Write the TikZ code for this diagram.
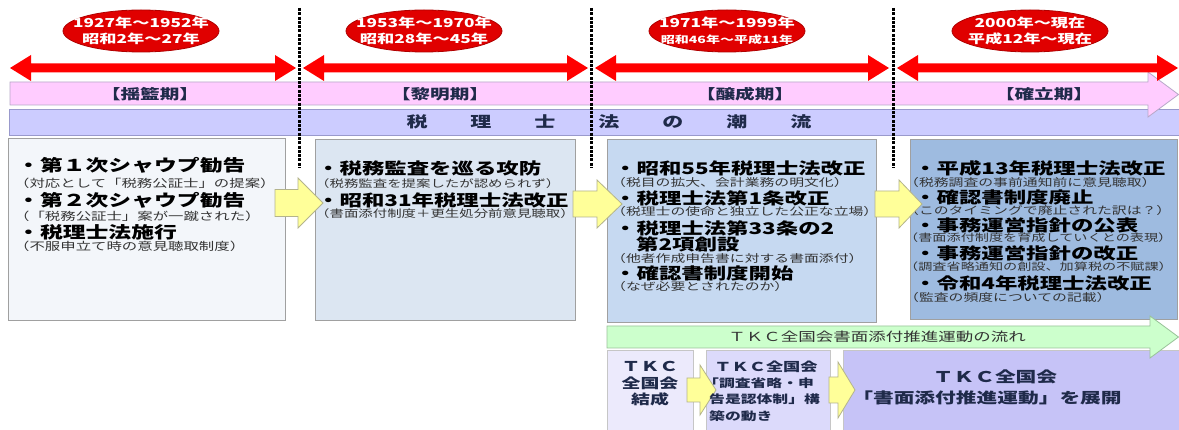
\documentclass[tikz,border=0pt]{standalone}
\usepackage{fontspec}
\setmainfont{Noto Sans CJK JP}[FakeStretch=1.4]
\usetikzlibrary{shapes.geometric}
\definecolor{ellred}{HTML}{E00000}
\definecolor{ellline}{HTML}{B00000}
\definecolor{arrred}{HTML}{FF0000}
\definecolor{pinkfill}{HTML}{FFCCFF}
\definecolor{pinkline}{HTML}{B8A8C8}
\definecolor{lavfill}{HTML}{CCCCFF}
\definecolor{lavline}{HTML}{9999CC}
\definecolor{boxa}{HTML}{F3F6FA}
\definecolor{boxb}{HTML}{DCE6F2}
\definecolor{boxc}{HTML}{C6D9F1}
\definecolor{boxd}{HTML}{9EBBE0}
\definecolor{boxline}{HTML}{A0A0A0}
\definecolor{yfill}{HTML}{FFFF99}
\definecolor{yline}{HTML}{B4B48C}
\definecolor{gfill}{HTML}{CCFFCC}
\definecolor{gline}{HTML}{99C299}
\definecolor{pa}{HTML}{ECEAFC}
\definecolor{pb}{HTML}{DCDAFB}
\definecolor{pc}{HTML}{C6C3F7}
\definecolor{navy}{HTML}{1F2A4A}
\definecolor{smallgray}{HTML}{333333}

\newcommand\RArrow[2]{\fill[arrred] (#1,68) -- ({#1+21},55) -- ({#1+21},63.5) -- ({#2-21},63.5) -- ({#2-21},55) -- (#2,68) -- ({#2-21},81) -- ({#2-21},72.5) -- ({#1+21},72.5) -- ({#1+21},81) -- cycle;}
\newcommand\YArrow[6]{\draw[yarr] (#1,{#4-#6}) -- (#2,{#4-#6}) -- (#2,{#4-#5}) -- (#3,#4) -- (#2,{#4+#5}) -- (#2,{#4+#6}) -- (#1,{#4+#6}) -- cycle;}

\begin{document}
\begin{tikzpicture}[x=1pt,y=-1pt,
  box/.style={draw=boxline, line width=0.8pt, anchor=north west, inner sep=0},
  pbox/.style={draw=boxline!60, line width=0.6pt, anchor=north west, inner sep=0},
  big/.style={anchor=west, inner sep=0, font=\fontsize{16}{18}\selectfont\bfseries},
  sm/.style={anchor=west, inner sep=0, text=smallgray, font=\fontsize{11}{12}\selectfont},
  sm2/.style={sm, font=\fontsize{10.3}{12}\selectfont},
  sm3/.style={sm, font=\fontsize{10.6}{12}\selectfont},
  sm4/.style={sm, font=\fontsize{10.6}{12}\selectfont},
  sm5/.style={sm, font=\fontsize{10.1}{12}\selectfont},
  yarr/.style={fill=yfill, draw=yline, line width=0.8pt, line join=miter},
  redell/.style={ellipse, fill=ellred, draw=ellline, line width=0.8pt, minimum width=156pt, minimum height=42pt, inner sep=0},
  etxt/.style={align=center, text=white, inner sep=0, font=\fontsize{12.3}{15.5}\selectfont\bfseries},
  bandtxt/.style={inner sep=0, text=navy, font=\fontsize{14}{16}\selectfont\bfseries},
  bt/.style={inner sep=0, text=navy, font=\fontsize{11.3}{13}\selectfont\bfseries},
  dline/.style={line width=3pt, dash pattern=on 3pt off 1.3pt, black}
]
\useasboundingbox (0,0) rectangle (1179,430);
\fill[white] (0,0) rectangle (1179,430);

% lavender band
\node[draw=lavline, fill=lavfill, line width=0.8pt, anchor=north west, minimum width=1175pt, minimum height=26pt, inner sep=0] (lav) at (9,109) {};
% pink band arrow
\draw[fill=pinkfill, draw=pinkline, line width=0.8pt] (10,82) -- (1148,82) -- (1148,72) -- (1178.5,94.5) -- (1148,117) -- (1148,105) -- (10,105) -- cycle;

% red double arrows
\RArrow{10}{296}
\RArrow{303}{588}
\RArrow{595}{889}
\RArrow{897}{1178}

% red ellipses
\node[redell] (e1) at (141,31) {};
\node[redell] (e2) at (424,31) {};
\node[redell] (e3) at (727,31) {};
\node[redell] (e4) at (1030,31) {};
\node[etxt] (t1) at (e1) {1927年～1952年\\昭和2年～27年};
\node[etxt] (t2) at (e2) {1953年～1970年\\昭和28年～45年};
\node[etxt] (t3) at (e3) {1971年～1999年\\{\fontsize{10}{15.5}\selectfont 昭和46年～平成11年}};
\node[etxt] (t4) at (e4) {2000年～現在\\平成12年～現在};

% band texts
\node[bandtxt] (p1) at (150,94) {【揺籃期】};
\node[bandtxt] (p2) at (440,94) {【黎明期】};
\node[bandtxt] (p3) at (745,94) {【醸成期】};
\node[bandtxt] (p4) at (1044,94) {【確立期】};
\node[bandtxt, font=\fontsize{15}{17}\selectfont\bfseries] (flow) at (609,122)
  {税\hspace{43pt}理\hspace{43pt}士\hspace{43pt}法\hspace{43pt}の\hspace{43pt}潮\hspace{43pt}流};

% main boxes
\node[box, fill=boxa, minimum width=277pt, minimum height=182pt] (B1) at (8,138) {};
\node[box, fill=boxb, minimum width=260pt, minimum height=181pt] (B2) at (315,139) {};
\node[box, fill=boxc, minimum width=269pt, minimum height=183pt] (B3) at (607,139) {};
\node[box, fill=boxd, minimum width=267pt, minimum height=180pt] (B4) at (910,139) {};

% box 1 text
\node[big, font=\fontsize{16.3}{18}\selectfont\bfseries] (a1) at (17,165) {・第１次シャウプ勧告};
\node[sm]  (a2) at (14,183) {（対応として「税務公証士」の提案）};
\node[big, font=\fontsize{16.3}{18}\selectfont\bfseries] (a3) at (17,200) {・第２次シャウプ勧告};
\node[sm]  (a4) at (14,216) {（「税務公証士」案が一蹴された）};
\node[big, font=\fontsize{16.3}{18}\selectfont\bfseries] (a5) at (17,232) {・税理士法施行};
\node[sm]  (a6) at (14,246) {（不服申立て時の意見聴取制度）};

% box 2 text
\node[big] (b1) at (317,168) {・税務監査を巡る攻防};
\node[sm2] (b2) at (315,184) {（税務監査を提案したが認められず）};
\node[big] (b3) at (317,200) {・昭和31年税理士法改正};
\node[sm2] (b4) at (315,214) {（書面添付制度＋更生処分前意見聴取）};

% box 3 text
\node[big] (c1) at (614,168) {・昭和55年税理士法改正};
\node[sm3] (c2) at (611,182) {（税目の拡大、会計業務の明文化）};
\node[big] (c3) at (614,198) {・税理士法第1条改正};
\node[sm3] (c4) at (611,211) {（税理士の使命と独立した公正な立場）};
\node[big] (c5) at (614,228) {・税理士法第33条の2};
\node[big] (c6) at (636,244) {第2項創設};
\node[sm3] (c7) at (611,258) {（他者作成申告書に対する書面添付）};
\node[big] (c8) at (614,273) {・確認書制度開始};
\node[sm3] (c9) at (611,286) {（なぜ必要とされたのか）};

% box 4 text
\node[big] (d1) at (914,168) {・平成13年税理士法改正};
\node[sm4] (d2) at (904,182) {（税務調査の事前通知前に意見聴取）};
\node[big] (d3) at (914,197) {・確認書制度廃止};
\node[sm4] (d4) at (904,210) {（このタイミングで廃止された訳は？）};
\node[big] (d5) at (914,225) {・事務運営指針の公表};
\node[sm5] (d6) at (904,238) {（書面添付制度を育成していくとの表現）};
\node[big] (d7) at (914,253) {・事務運営指針の改正};
\node[sm5] (d8) at (904,267) {（調査省略通知の創設、加算税の不賦課）};
\node[big] (d9) at (914,283) {・令和4年税理士法改正};
\node[sm4] (d10) at (904,297) {（監査の頻度についての記載）};

% yellow arrows between main boxes
\YArrow{275}{298}{323}{203}{25}{13.5}
\YArrow{573}{597}{622}{204}{24}{13}
\YArrow{875}{899}{922}{204}{24}{13}

% bottom boxes
\node[pbox, fill=pa, minimum width=86pt, minimum height=82pt] (L1) at (607,350) {};
\node[pbox, fill=pb, minimum width=124pt, minimum height=82pt] (L2) at (706,350) {};
\node[pbox, fill=pc, minimum width=338pt, minimum height=82pt] (L3) at (843,350) {};

% green arrow
\draw[fill=gfill, draw=gline, line width=0.8pt] (607,326) -- (1150,326) -- (1150,316) -- (1178.5,337) -- (1150,358) -- (1150,348) -- (607,348) -- cycle;
\node[inner sep=0, text=smallgray, font=\fontsize{12.5}{14}\selectfont] (gtxt) at (877,337) {ＴＫＣ全国会書面添付推進運動の流れ};

% bottom yellow arrows
\YArrow{687}{700}{716}{390}{25}{12}
\YArrow{829}{838}{855}{390}{28}{13}

% bottom texts
\node[bt, align=center, font=\fontsize{13.5}{16.5}\selectfont\bfseries] (la) at (650,384) {ＴＫＣ\\全国会\\結成};
\node[bt, font=\fontsize{12.3}{13}\selectfont\bfseries] (lb1) at (766,367) {ＴＫＣ全国会};
\node[bt, anchor=west] (lb2) at (703,383) {「調査省略・申};
\node[bt, anchor=west] (lb3) at (709,399) {告是認体制」構};
\node[bt, anchor=west] (lb4) at (709,416) {築の動き};
\node[bt, font=\fontsize{14.8}{16}\selectfont\bfseries] (lc1) at (995,377) {ＴＫＣ全国会};
\node[bt, font=\fontsize{14.8}{16}\selectfont\bfseries] (lc2) at (987,398) {「書面添付推進運動」を展開};

% dashed separators
\coordinate (s1t) at (299,8); \coordinate (s1b) at (299,168);
\coordinate (s2t) at (591,8); \coordinate (s2b) at (591,168);
\coordinate (s3t) at (893,8); \coordinate (s3b) at (893,168);
\draw[dline] (s1t) -- (s1b);
\draw[dline] (s2t) -- (s2b);
\draw[dline] (s3t) -- (s3b);
\end{tikzpicture}
\end{document}
